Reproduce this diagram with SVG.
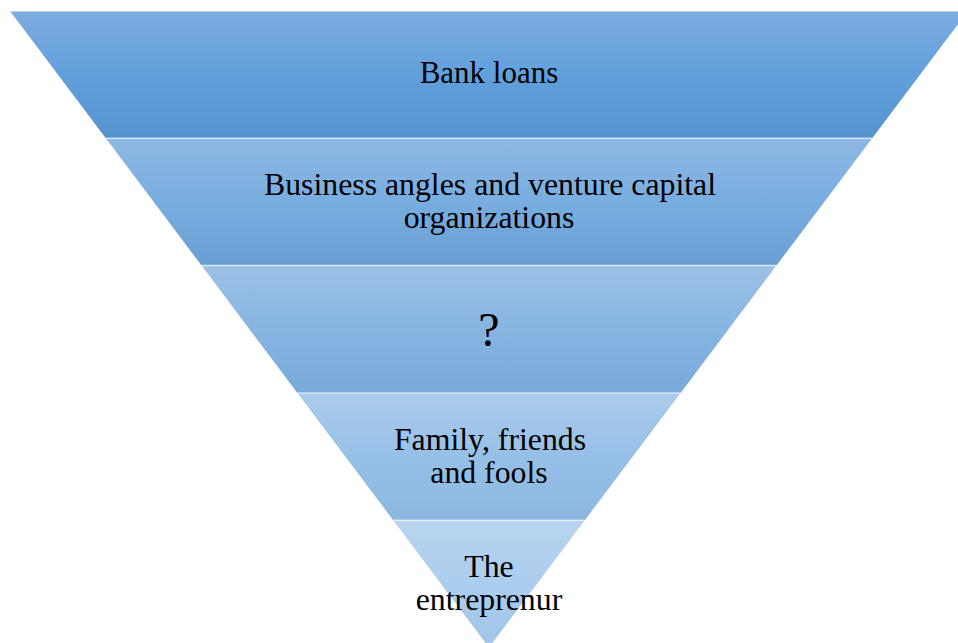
<svg xmlns="http://www.w3.org/2000/svg" width="958" height="643" viewBox="0 0 958 643">
<defs>
<linearGradient id="g1" x1="0" y1="0" x2="0" y2="1"><stop offset="0" stop-color="#7DADE0"/><stop offset="0.5" stop-color="#62A0DC"/><stop offset="1" stop-color="#5593CE"/></linearGradient>
<linearGradient id="g2" x1="0" y1="0" x2="0" y2="1"><stop offset="0" stop-color="#8FB8E3"/><stop offset="0.5" stop-color="#78ADE0"/><stop offset="1" stop-color="#6A9FD3"/></linearGradient>
<linearGradient id="g3" x1="0" y1="0" x2="0" y2="1"><stop offset="0" stop-color="#9DC1E7"/><stop offset="0.5" stop-color="#86B5E2"/><stop offset="1" stop-color="#78AADA"/></linearGradient>
<linearGradient id="g4" x1="0" y1="0" x2="0" y2="1"><stop offset="0" stop-color="#ABCBEB"/><stop offset="0.5" stop-color="#97C0E7"/><stop offset="1" stop-color="#8BB7DF"/></linearGradient>
<linearGradient id="g5" x1="0" y1="0" x2="0" y2="1"><stop offset="0" stop-color="#B8D4EF"/><stop offset="0.5" stop-color="#ABCDEE"/><stop offset="1" stop-color="#A2C5E8"/></linearGradient>
</defs>
<style>
.band{stroke:none}
.sep{stroke:#FFFFFF;stroke-opacity:0.6;stroke-width:1.5}
.t{font-family:"Liberation Serif","Times New Roman",serif;font-size:31.8px;fill:#000;text-anchor:middle}
</style>
<g id="node1">
<polygon class="band" fill="url(#g1)" points="10,11 968,11 872.2,138.3 105.8,138.3"/>
<text class="t" x="489" y="83" style="font-size:31px">Bank loans</text>
</g>
<g id="node2">
<polygon class="band" fill="url(#g2)" points="105.8,138.3 872.2,138.3 776.4,265.6 201.6,265.6"/>
<text class="t" x="490" y="195">Business angles and venture capital</text>
<text class="t" x="489" y="228">organizations</text>
</g>
<g id="node3">
<polygon class="band" fill="url(#g3)" points="201.6,265.6 776.4,265.6 680.6,392.9 297.4,392.9"/>
<text class="t" x="489" y="346" style="font-size:48px">?</text>
</g>
<g id="node4">
<polygon class="band" fill="url(#g4)" points="297.4,392.9 680.6,392.9 584.8,520.2 393.2,520.2"/>
<text class="t" x="490" y="450">Family, friends</text>
<text class="t" x="489" y="483">and fools</text>
</g>
<g id="node5">
<polygon class="band" fill="url(#g5)" points="393.2,520.2 584.8,520.2 489,647.5"/>
<text class="t" x="489" y="577">The</text>
<text class="t" x="489" y="610">entreprenur</text>
</g>
<g id="connectors">
<line class="sep" x1="10" y1="11" x2="968" y2="11"/>
<line class="sep" x1="105.8" y1="138.3" x2="872.2" y2="138.3"/>
<line class="sep" x1="201.6" y1="265.6" x2="776.4" y2="265.6"/>
<line class="sep" x1="297.4" y1="392.9" x2="680.6" y2="392.9"/>
<line class="sep" x1="393.2" y1="520.2" x2="584.8" y2="520.2"/>
</g>
</svg>
